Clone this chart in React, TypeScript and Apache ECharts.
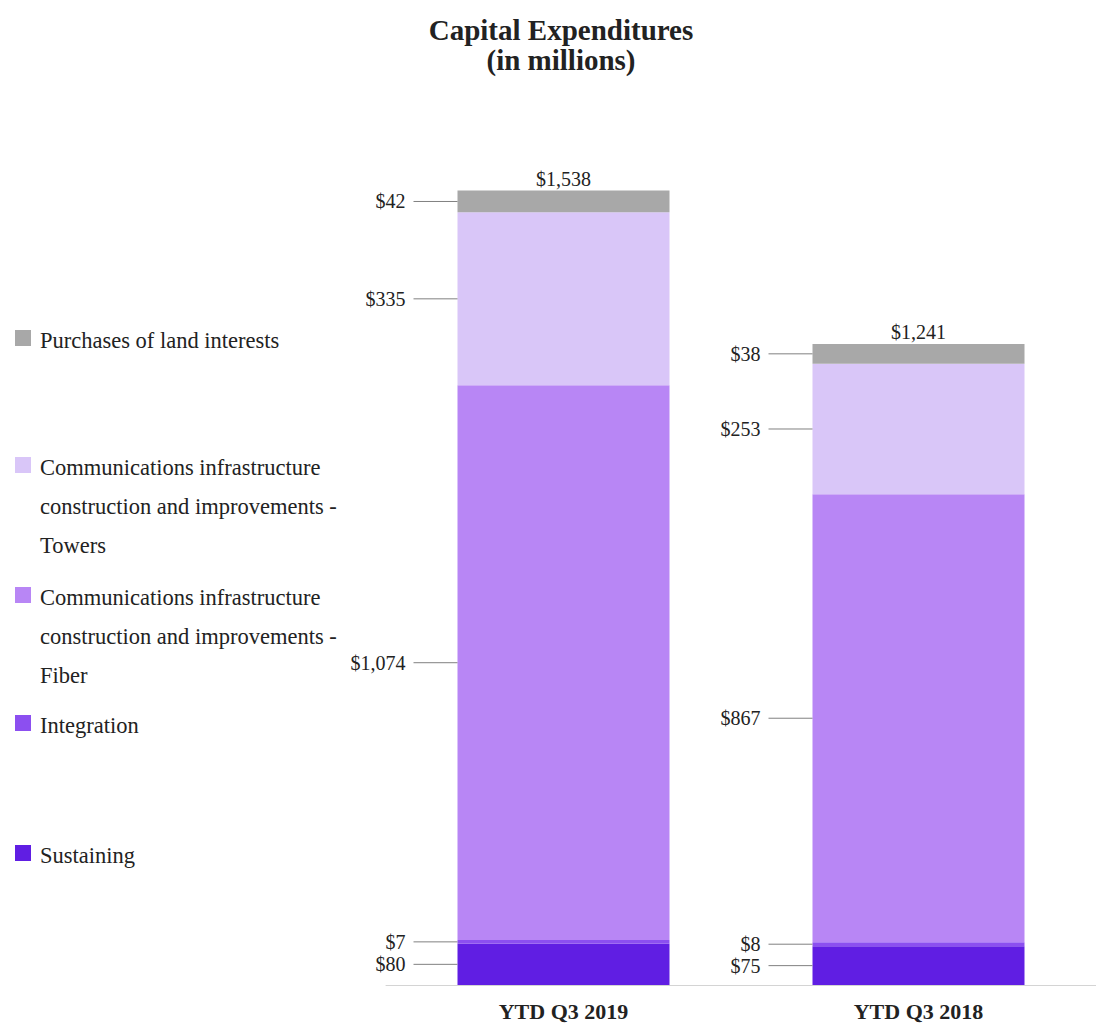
import React, { useEffect, useRef } from "react";
import * as echarts from "echarts";

// Periods on the x axis
const categories = ["YTD Q3 2019", "YTD Q3 2018"];

// Stack components, bottom to top (in $ millions)
const sustaining = [80, 75];
const integration = [7, 8];
const fiber = [1074, 867];
const towers = [335, 253];
const landInterests = [42, 38];

const seriesNames = [
  "Sustaining",
  "Integration",
  "Communications infrastructure construction and improvements - Fiber",
  "Communications infrastructure construction and improvements - Towers",
  "Purchases of land interests",
];
const seriesColors = ["#601ee3", "#8c4ff0", "#b886f5", "#d9c6f8", "#a8a8a8"];

// Legend entries, top to bottom, with their wrapped text lines
const legendOrder = [4, 3, 2, 1, 0];
const legendLines = [
  ["Purchases of land interests"],
  ["Communications infrastructure", "construction and improvements -", "Towers"],
  ["Communications infrastructure", "construction and improvements -", "Fiber"],
  ["Integration"],
  ["Sustaining"],
];
const legendRowY = [340, 467, 597, 725, 855];

const stacks = [sustaining, integration, fiber, towers, landInterests];
const totals = categories.map((_, i) => stacks.reduce((s, arr) => s + arr[i], 0));

const SERIF = '"Liberation Serif", "Times New Roman", serif';
const BAR_WIDTH = 212;

const money = (v: number) => "$" + v.toLocaleString("en-US");

export default function App() {
  const ref = useRef<HTMLDivElement>(null);

  useEffect(() => {
    if (!ref.current) return;
    const chart = echarts.init(ref.current, null, { renderer: "svg" });

    // Rows for the side labels: [category, lower, upper, value]
    const labelRows: number[][] = [];
    categories.forEach((_, ci) => {
      let cum = 0;
      stacks.forEach((arr) => {
        labelRows.push([ci, cum, cum + arr[ci], arr[ci]]);
        cum += arr[ci];
      });
    });

    const barSeries = stacks.map((arr, si) => ({
      name: seriesNames[si],
      type: "bar",
      stack: "capex",
      barWidth: BAR_WIDTH,
      data: arr,
      itemStyle: { color: seriesColors[si] },
      label:
        si === stacks.length - 1
          ? {
              show: true,
              position: "top",
              distance: 2,
              formatter: (p: any) => money(totals[p.dataIndex]),
              fontFamily: SERIF,
              fontSize: 20,
              color: "#222",
            }
          : { show: false },
    }));

    const legendGraphics: any[] = [];
    legendOrder.forEach((si, k) => {
      const cy = legendRowY[k];
      legendGraphics.push({
        type: "rect",
        left: 15,
        top: cy - 10,
        shape: { width: 16, height: 16 },
        style: { fill: seriesColors[si] },
      });
      legendGraphics.push({
        type: "text",
        x: 40,
        y: cy - 19.5,
        style: {
          text: legendLines[k].join("\n"),
          fontFamily: SERIF,
          fontSize: 22.5,
          lineHeight: 39,
          fill: "#222",
          verticalAlign: "top",
        },
      });
    });

    chart.setOption({
      animation: false,
      backgroundColor: "#ffffff",
      textStyle: { fontFamily: SERIF },
      title: {
        text: "Capital Expenditures\n(in millions)",
        left: 556,
        top: 10,
        textAlign: "center",
        textStyle: {
          fontFamily: SERIF,
          fontWeight: "bold",
          fontSize: 29,
          lineHeight: 30,
          color: "#222",
        },
      },
      grid: { left: 386, width: 723, top: 158.6, bottom: 38 },
      xAxis: {
        type: "category",
        data: categories,
        axisLine: { show: true, lineStyle: { color: "#d4d4d4", width: 1 } },
        axisTick: { show: false },
        axisLabel: {
          fontFamily: SERIF,
          fontWeight: "bold",
          fontSize: 22,
          color: "#222",
          margin: 15,
        },
      },
      yAxis: {
        type: "value",
        min: 0,
        max: 1600,
        show: false,
        splitLine: { show: false },
      },
      graphic: legendGraphics,
      series: [
        ...barSeries,
        {
          type: "custom",
          name: "segment labels",
          silent: true,
          z: 5,
          data: labelRows,
          renderItem: (params: any, api: any) => {
            const ci = api.value(0);
            const mid = (api.value(1) + api.value(2)) / 2;
            const p = api.coord([ci, mid]);
            const barLeft = p[0] - BAR_WIDTH / 2;
            return {
              type: "group",
              children: [
                {
                  type: "line",
                  shape: { x1: barLeft - 44, y1: p[1], x2: barLeft, y2: p[1] },
                  style: { stroke: "#808080", lineWidth: 1 },
                },
                {
                  type: "text",
                  x: barLeft - 52,
                  y: p[1],
                  style: {
                    text: money(api.value(3)),
                    fontFamily: SERIF,
                    fontSize: 20,
                    fill: "#222",
                    align: "right",
                    verticalAlign: "middle",
                  },
                },
              ],
            };
          },
        },
      ],
    });

    return () => chart.dispose();
  }, []);

  return (
    <div
      ref={ref}
      style={{ position: "absolute", left: 0, top: 0, width: 1096, height: 1023 }}
    />
  );
}
